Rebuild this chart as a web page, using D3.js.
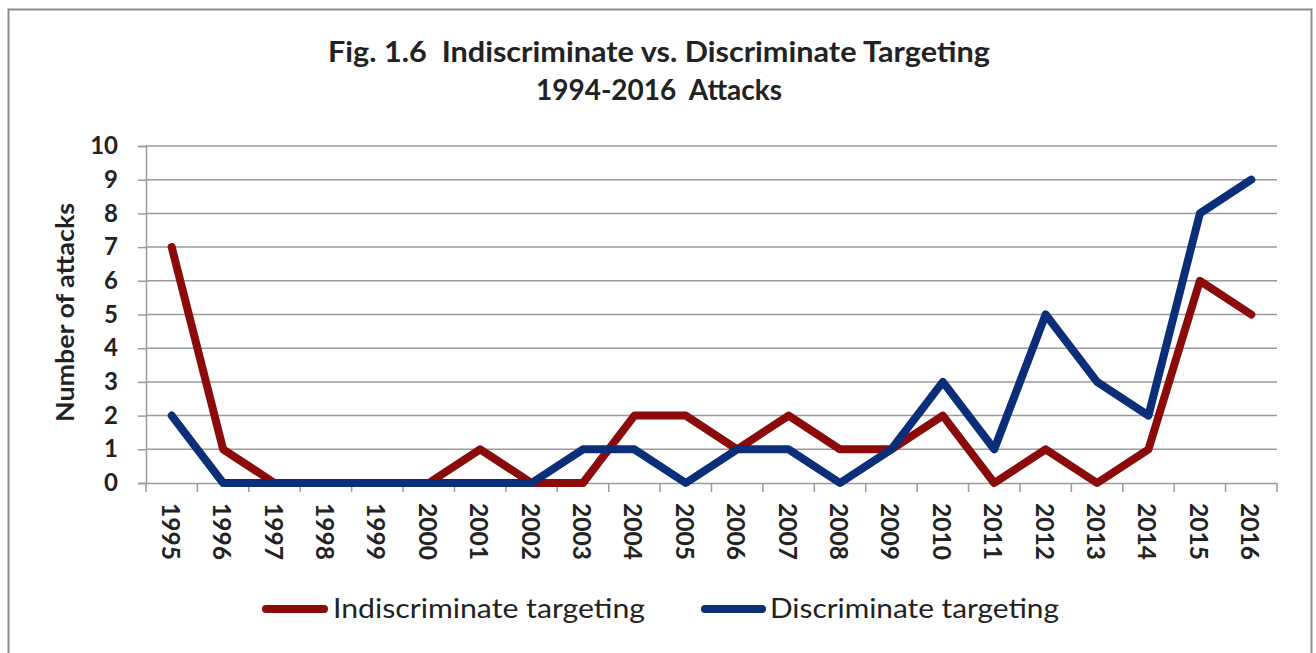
<!DOCTYPE html>
<html><head><meta charset="utf-8">
<script src="https://cdn.jsdelivr.net/npm/d3@7"></script>
<style>body{margin:0;background:#fff}svg{display:block}</style>
</head><body>
<script>
const years = ["1995","1996","1997","1998","1999","2000","2001","2002","2003","2004","2005","2006","2007","2008","2009","2010","2011","2012","2013","2014","2015","2016"];
const indiscriminate = [7,1,0,0,0,0,1,0,0,2,2,1,2,1,1,2,0,1,0,1,6,5];
const discriminate   = [2,0,0,0,0,0,0,0,1,1,0,1,1,0,1,3,1,5,3,2,8,9];
const yTicks = [0,1,2,3,4,5,6,7,8,9,10];
const seriesNames = ["Indiscriminate targeting","Discriminate targeting"];
const seriesColors = ["#8B0A0A","#0A2E78"];

const W = 1316, H = 653;
const svg = d3.select("body").append("svg").attr("width",W).attr("height",H);
const FONT = "Lato, 'Open Sans', sans-serif";

svg.append("rect").attr("x",8.5).attr("y",9.5).attr("width",1303).attr("height",660)
  .attr("fill","#fff").attr("stroke","#8c8c8c").attr("stroke-width",2);

const L = 146, R = 1277, T = 146, B = 483;
const x = d3.scaleBand().domain(years).range([L,R]);
const y = d3.scaleLinear().domain([0,10]).range([B,T]);

// gridlines
svg.append("g").selectAll("line").data(yTicks.filter(d=>d>0)).join("line")
  .attr("x1",L).attr("x2",R).attr("y1",d=>y(d)).attr("y2",d=>y(d))
  .attr("stroke","#9a9a9a").attr("stroke-width",1.5);

// y axis
const yAxis = svg.append("g").attr("transform",`translate(${L},0)`)
  .call(d3.axisLeft(y).tickValues(yTicks).tickSize(8).tickPadding(20));
yAxis.select(".domain").attr("stroke","#9a9a9a").attr("stroke-width",1.5);
yAxis.selectAll(".tick line").attr("stroke","#9a9a9a").attr("stroke-width",1.5);
yAxis.selectAll("text").attr("font-family",FONT).attr("font-weight","bold").attr("font-size",24).attr("fill","#222");

// x axis
const xAxis = svg.append("g").attr("transform",`translate(0,${B})`)
  .call(d3.axisBottom(x).tickSize(0).tickFormat(""));
xAxis.select(".domain").attr("stroke","#9a9a9a").attr("stroke-width",1.5);
const bounds = years.map(d=>x(d)).concat([R]);
svg.append("g").selectAll("line").data(bounds).join("line")
  .attr("x1",d=>d).attr("x2",d=>d).attr("y1",B).attr("y2",B+9)
  .attr("stroke","#9a9a9a").attr("stroke-width",1.5);
svg.append("g").selectAll("text").data(years).join("text")
  .attr("transform",d=>`translate(${x(d)+x.bandwidth()/2},${B+20}) rotate(90)`)
  .attr("font-family",FONT).attr("font-weight","bold").attr("font-size",25).attr("fill","#222")
  .attr("dominant-baseline","central")
  .attr("textLength",57).attr("lengthAdjust","spacingAndGlyphs")
  .attr("text-anchor","start").text(d=>d);

// lines
const line = d3.line().x((d,i)=>x(years[i])+x.bandwidth()/2).y(d=>y(d));
[indiscriminate, discriminate].forEach((s,k)=>{
  svg.append("path").datum(s).attr("d",line).attr("fill","none")
    .attr("stroke",seriesColors[k]).attr("stroke-width",8)
    .attr("stroke-linejoin","round").attr("stroke-linecap","round");
});

// titles
svg.append("text").attr("x",328).attr("y",62)
  .attr("font-family",FONT).attr("font-weight","bold").attr("font-size",28).attr("fill","#222")
  .attr("xml:space","preserve").attr("textLength",662).attr("lengthAdjust","spacingAndGlyphs")
  .text("Fig. 1.6  Indiscriminate vs. Discriminate Targeting");
svg.append("text").attr("x",536).attr("y",100)
  .attr("font-family",FONT).attr("font-weight","bold").attr("font-size",28).attr("fill","#222")
  .attr("xml:space","preserve").attr("textLength",246).attr("lengthAdjust","spacingAndGlyphs")
  .text("1994-2016  Attacks");

svg.append("text").attr("transform","translate(64,422) rotate(-90)").attr("text-anchor","start")
  .attr("font-family",FONT).attr("font-weight","bold").attr("font-size",25).attr("fill","#222")
  .attr("dominant-baseline","central")
  .attr("textLength",219).attr("lengthAdjust","spacingAndGlyphs")
  .text("Number of attacks");

// legend
const legLine = [[262,328],[701,766]];
const legText = [[333,312],[770,289]];
seriesNames.forEach((n,k)=>{
  svg.append("line").attr("x1",legLine[k][0]+4).attr("x2",legLine[k][1]-4).attr("y1",609).attr("y2",609)
    .attr("stroke",seriesColors[k]).attr("stroke-width",8).attr("stroke-linecap","round");
  svg.append("text").attr("x",legText[k][0]).attr("y",618)
    .attr("font-family",FONT).attr("font-size",27).attr("fill","#222")
    .attr("textLength",legText[k][1]).attr("lengthAdjust","spacingAndGlyphs").text(n);
});
</script>
</body></html>
